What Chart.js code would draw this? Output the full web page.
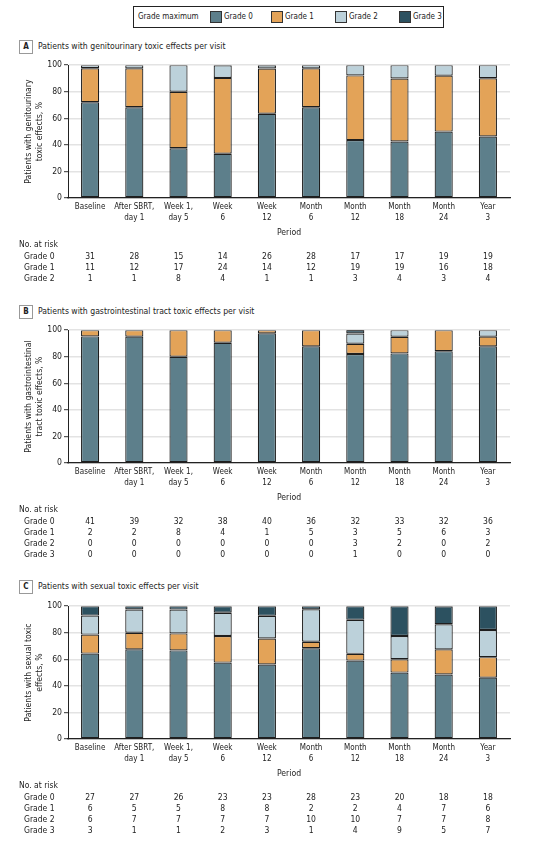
<!DOCTYPE html>
<html lang="en">
<head>
  <meta charset="UTF-8">
  <title>Toxic effects per visit</title>
  <script src="https://cdn.jsdelivr.net/npm/chart.js"></script>
  <style>
    body {
      margin: 0;
      background: #fff;
      color: #222;
      font-family: "Liberation Sans Narrow", "DejaVu Sans Condensed", "Open Sans", sans-serif;
    }
    .page {
      position: relative;
      width: 534px;
      height: 847px;
    }
    .legend {
      position: absolute;
      left: 133px;
      top: 6px;
      width: 309px;
      height: 20px;
      border: 1.5px solid #222;
      font-size: 8px;
      white-space: nowrap;
    }
    .legend span {
      position: absolute;
      top: 4px;
      line-height: 12px;
    }
    .legend i {
      position: absolute;
      top: 4px;
      width: 10px;
      height: 10px;
      border: 1px solid #333;
    }
    .panel-title {
      position: absolute;
      left: 19px;
      font-size: 8.6px;
      line-height: 14px;
      white-space: nowrap;
    }
    .panel-title b {
      display: inline-block;
      width: 12px;
      height: 12px;
      line-height: 12px;
      border: 1px solid #999;
      text-align: center;
      font-size: 8px;
      margin-right: 5px;
    }
    canvas {
      position: absolute;
      left: 0;
    }
  </style>
</head>
<body>
  <div class="page">
    <div class="legend">
      <span style="left:4px">Grade maximum</span>
      <i style="left:76px;background:#5d7f8b"></i><span style="left:90px">Grade 0</span>
      <i style="left:137px;background:#e3a358"></i><span style="left:151px">Grade 1</span>
      <i style="left:201px;background:#bcd1da"></i><span style="left:215px">Grade 2</span>
      <i style="left:265px;background:#2c5160"></i><span style="left:279px">Grade 3</span>
    </div>

    <div class="panel-title" style="top:39px"><b>A</b>Patients with genitourinary toxic effects per visit</div>
    <canvas id="chartA" width="534" height="232" style="top:58px"></canvas>

    <div class="panel-title" style="top:304px"><b>B</b>Patients with gastrointestinal tract toxic effects per visit</div>
    <canvas id="chartB" width="534" height="237" style="top:323px"></canvas>

    <div class="panel-title" style="top:579px"><b>C</b>Patients with sexual toxic effects per visit</div>
    <canvas id="chartC" width="534" height="237" style="top:599px"></canvas>
  </div>

  <script>
    const periods = [['Baseline'], ['After SBRT,', 'day 1'], ['Week 1,', 'day 5'], ['Week', '6'], ['Week', '12'],
                     ['Month', '6'], ['Month', '12'], ['Month', '18'], ['Month', '24'], ['Year', '3']];
    const gradeNames = ['Grade 0', 'Grade 1', 'Grade 2', 'Grade 3'];
    const gradeColors = ['#5d7f8b', '#e3a358', '#bcd1da', '#2c5160'];
    const yTicks = [0, 20, 40, 60, 80, 100];

    // genitourinary, % per visit
    const guG0Pct = [72.1, 68.3, 37.5, 33.3, 63.4, 68.3, 43.6, 42.5, 50.0, 46.3];
    const guG1Pct = [25.6, 29.3, 42.5, 57.1, 34.1, 29.3, 48.7, 47.5, 42.1, 43.9];
    const guG2Pct = [2.3, 2.4, 20.0, 9.5, 2.4, 2.4, 7.7, 10.0, 7.9, 9.8];
    // genitourinary, no. at risk
    const guG0 = [31, 28, 15, 14, 26, 28, 17, 17, 19, 19];
    const guG1 = [11, 12, 17, 24, 14, 12, 19, 19, 16, 18];
    const guG2 = [1, 1, 8, 4, 1, 1, 3, 4, 3, 4];

    // gastrointestinal, % per visit
    const giG0Pct = [95.3, 95.1, 80.0, 90.5, 97.6, 87.8, 82.1, 82.5, 84.2, 87.8];
    const giG1Pct = [4.7, 4.9, 20.0, 9.5, 2.4, 12.2, 7.7, 12.5, 15.8, 7.3];
    const giG2Pct = [0, 0, 0, 0, 0, 0, 7.7, 5.0, 0, 4.9];
    const giG3Pct = [0, 0, 0, 0, 0, 0, 2.6, 0, 0, 0];
    // gastrointestinal, no. at risk
    const giG0 = [41, 39, 32, 38, 40, 36, 32, 33, 32, 36];
    const giG1 = [2, 2, 8, 4, 1, 5, 3, 5, 6, 3];
    const giG2 = [0, 0, 0, 0, 0, 0, 3, 2, 0, 2];
    const giG3 = [0, 0, 0, 0, 0, 0, 1, 0, 0, 0];

    // sexual, % per visit
    const sxG0Pct = [64.3, 67.5, 66.7, 57.5, 56.1, 68.3, 59.0, 50.0, 48.6, 46.2];
    const sxG1Pct = [14.3, 12.5, 12.8, 20.0, 19.5, 4.9, 5.1, 10.0, 18.9, 15.4];
    const sxG2Pct = [14.3, 17.5, 17.9, 17.5, 17.1, 24.4, 25.6, 17.5, 18.9, 20.5];
    const sxG3Pct = [7.1, 2.5, 2.6, 5.0, 7.3, 2.4, 10.3, 22.5, 13.5, 17.9];
    // sexual, no. at risk
    const sxG0 = [27, 27, 26, 23, 23, 28, 23, 20, 18, 18];
    const sxG1 = [6, 5, 5, 8, 8, 2, 2, 4, 7, 6];
    const sxG2 = [6, 7, 7, 7, 7, 10, 10, 7, 7, 8];
    const sxG3 = [3, 1, 1, 2, 3, 1, 4, 9, 5, 7];

    const FONT = '"Liberation Sans Narrow", "DejaVu Sans Condensed", "Open Sans", sans-serif';
    Chart.defaults.font.family = FONT;
    Chart.defaults.font.size = 8.5;
    Chart.defaults.color = '#222';

    // draws the "No. at risk" rows under the x axis, aligned on the category positions
    const atRiskPlugin = {
      id: 'atRisk',
      afterDraw(chart, args, opts) {
        const ctx = chart.ctx;
        const x = chart.scales.x;
        const base = chart.chartArea.bottom;
        ctx.save();
        ctx.font = '8.5px ' + FONT;
        ctx.fillStyle = '#222';
        ctx.textBaseline = 'middle';
        ctx.textAlign = 'left';
        ctx.fillText('No. at risk', 19, base + 47);
        opts.rows.forEach((row, r) => {
          const y = base + 59 + r * 11;
          ctx.textAlign = 'left';
          ctx.fillText(gradeNames[r], 24, y);
          ctx.textAlign = 'center';
          row.forEach((v, i) => ctx.fillText(String(v), x.getPixelForValue(i), y));
        });
        ctx.restore();
      }
    };

    function makeChart(id, yTitle, pctSeries, countRows) {
      const datasets = pctSeries.map((d, i) => ({
        label: gradeNames[i],
        data: d,
        backgroundColor: gradeColors[i],
        borderColor: '#1e1e1e',
        borderWidth: 1.2,
        borderSkipped: false,
        barPercentage: 0.41,
        categoryPercentage: 1
      }));
      return new Chart(document.getElementById(id), {
        type: 'bar',
        data: { labels: periods, datasets: datasets },
        plugins: [atRiskPlugin],
        options: {
          responsive: false,
          animation: false,
          layout: { padding: { top: 6, right: 24, left: 0, bottom: countRows.length === 3 ? 52 : 57 } },
          plugins: {
            legend: { display: false },
            tooltip: { enabled: false },
            atRisk: { rows: countRows }
          },
          scales: {
            x: {
              stacked: true,
              grid: { display: false, drawTicks: false },
              border: { color: '#222', width: 1.2 },
              ticks: { padding: 4, font: { size: 8, lineHeight: 1.35 }, maxRotation: 0, autoSkip: false },
              title: { display: true, text: 'Period', font: { size: 8.6, lineHeight: 1.2 }, padding: 0 },
              afterFit(s) { s.height = 40; }
            },
            y: {
              stacked: true,
              min: 0,
              max: 100,
              afterBuildTicks(s) { s.ticks = yTicks.map(v => ({ value: v })); },
              grid: { color: '#e3e3e3', lineWidth: 1.4, tickColor: '#333', tickLength: 4, tickWidth: 1 },
              border: { color: '#222', width: 1 },
              ticks: { padding: 2, font: { size: 8.6 } },
              title: { display: true, text: yTitle, font: { size: 8.6, lineHeight: 1.2 }, padding: { top: 24, bottom: 0 } },
              afterFit(s) { s.width = 68; }
            }
          }
        }
      });
    }

    makeChart('chartA', ['Patients with genitourinary', 'toxic effects, %'],
      [guG0Pct, guG1Pct, guG2Pct], [guG0, guG1, guG2]);
    makeChart('chartB', ['Patients with gastrointestinal', 'tract toxic effects, %'],
      [giG0Pct, giG1Pct, giG2Pct, giG3Pct], [giG0, giG1, giG2, giG3]);
    makeChart('chartC', ['Patients with sexual toxic', 'effects, %'],
      [sxG0Pct, sxG1Pct, sxG2Pct, sxG3Pct], [sxG0, sxG1, sxG2, sxG3]);
  </script>
</body>
</html>
